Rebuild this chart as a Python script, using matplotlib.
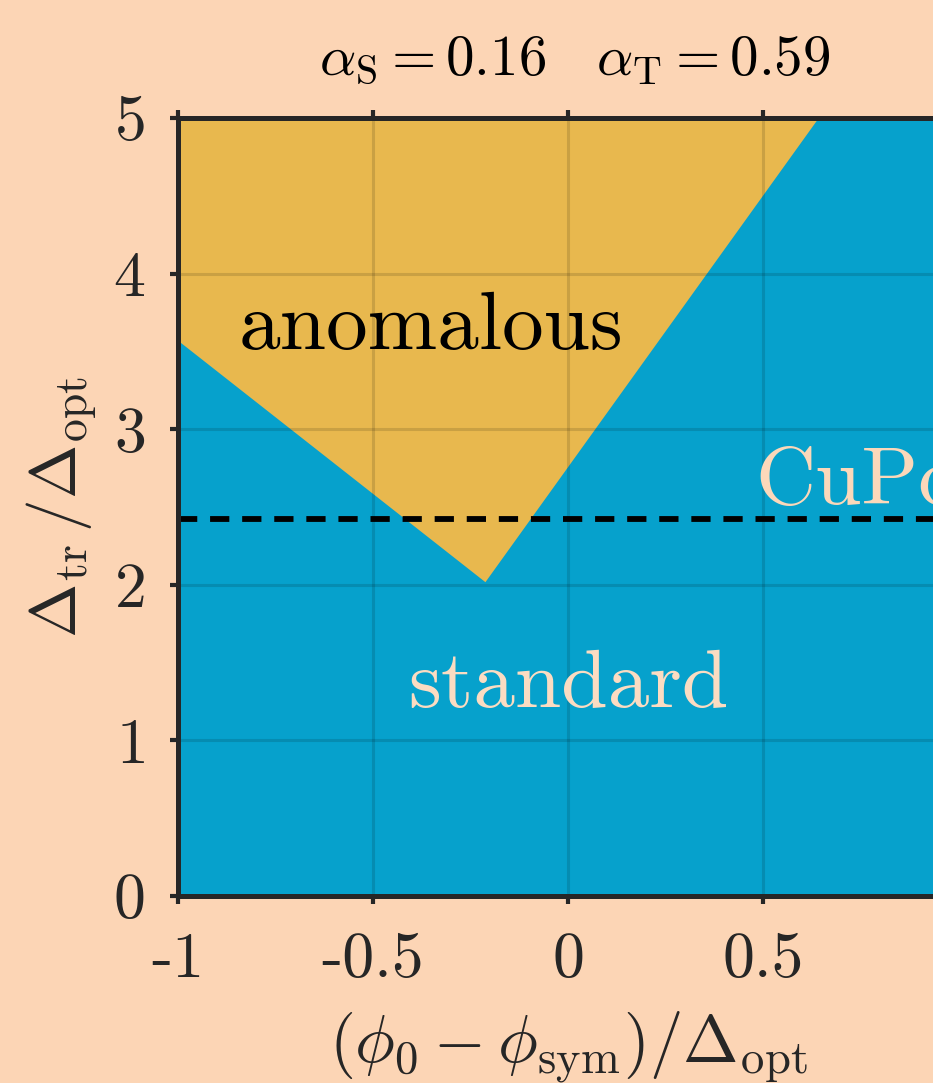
import numpy as np
import matplotlib
matplotlib.use("Agg")
import matplotlib.pyplot as plt

# phase boundary (V shape) between anomalous and standard regions
boundary_x = [-1.0, -0.213, 0.641]
boundary_y = [3.57, 2.02, 5.0]
cupc_level = 2.42

xticks = [-1, -0.5, 0, 0.5]
xtick_labels = ['-1', '-0.5', '0', '0.5']
yticks = [0, 1, 2, 3, 4, 5]

BG = '#FCD5B5'
YELLOW = '#E8B84E'
BLUE = '#06A1CC'
DARK = '#262626'

plt.rcParams['mathtext.fontset'] = 'cm'
plt.rcParams['font.family'] = 'serif'
plt.rcParams['font.serif'] = ['cmr10']
plt.rcParams['axes.formatter.use_mathtext'] = True

fig = plt.figure(figsize=(9.33, 10.83), dpi=100, facecolor=BG)
ax = fig.add_axes([178/933, 187/1083, 780/933, 778/1083])
ax.set_facecolor(BLUE)

ax.fill_between(boundary_x, boundary_y, 5, color=YELLOW, linewidth=0, zorder=1)
ax.axhline(cupc_level, color='black', lw=4.2, dashes=(3.3, 2.2), zorder=3)

ax.set_xlim(-1, 1)
ax.set_ylim(0, 5)
ax.set_xticks(xticks)
ax.set_xticklabels(xtick_labels)
ax.set_yticks(yticks)
ax.grid(True, color='black', alpha=0.13, lw=2.2, zorder=2)
ax.set_axisbelow(False)

for s in ax.spines.values():
    s.set_linewidth(3.6)
    s.set_color(DARK)
    s.set_zorder(5)
ax.tick_params(direction='out', length=6, width=3, color=DARK, labelcolor=DARK,
               labelsize=46, top=True)
ax.tick_params(axis='x', pad=20)
ax.tick_params(axis='y', pad=18)

ax.text(-0.351, 3.65, 'anomalous', fontsize=60, color='black', ha='center', va='center', zorder=4)
ax.text(0.0, 1.35, 'standard', fontsize=60, color='#FBDCC2', ha='center', va='center', zorder=4)
ax.text(0.48, 2.52, 'CuPc', fontsize=60, color='#FBD8BA', ha='left', va='baseline', zorder=4)

ax.set_xlabel(r'$(\phi_0-\phi_{\rm sym})/\Delta_{\rm opt}$', fontsize=48, color=DARK, labelpad=14)
ax.set_ylabel(r'$\Delta_{\rm tr}\,/\Delta_{\rm opt}$', fontsize=47, color=DARK, labelpad=10)

fig.text(575/933, 1 - 60/1083, r'$\alpha_{\rm S}=0.16\quad\alpha_{\rm T}=0.59$',
         fontsize=41, color='black', ha='center', va='center')

fig.savefig('out.png', dpi=100, facecolor=BG)
